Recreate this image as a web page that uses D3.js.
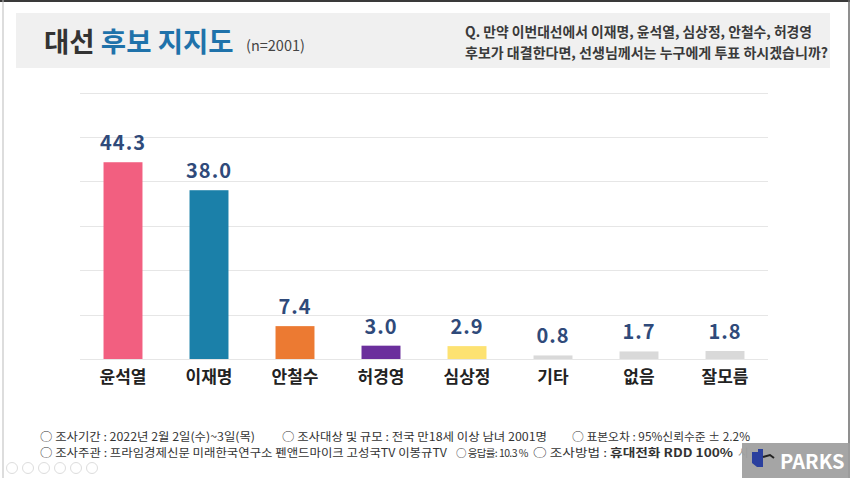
<!DOCTYPE html>
<html><head><meta charset="utf-8">
<script src="https://cdn.jsdelivr.net/npm/d3@7"></script>
<style>
html,body{margin:0;padding:0;background:#fff;}
svg{display:block;}
text{font-family:"Noto Sans CJK KR","Noto Sans",sans-serif;}
</style></head>
<body><svg id="c" width="850" height="478"></svg>
<script>
const categories = ["윤석열","이재명","안철수","허경영","심상정","기타","없음","잘모름"];
const values = [44.3,38.0,7.4,3.0,2.9,0.8,1.7,1.8];
const colors = ["#f25f80","#1b80a9","#ec7a32","#6b2f9c","#fde272","#d9d9d9","#d9d9d9","#d9d9d9"];
const yTicks = [0,10,20,30,40,50,60];
const footer1 = [["○ 조사기간 : 2022년 2월 2일(수)~3일(목)",40,215],["○ 조사대상 및 규모 : 전국 만18세 이상 남녀 2001명",282,265],["○ 표본오차 : 95%신뢰수준 ± 2.2%",572,178]];
const footer2 = [["○ 조사주관 : 프라임경제신문 미래한국연구소 펜앤드마이크 고성국TV 이봉규TV",40,407]];
const responseRate = "○ 응답률: 10.3 %";

const svg = d3.select("#c");
// frame
svg.append("rect").attr("x",0).attr("y",0).attr("width",850).attr("height",478).attr("fill","#fff");
svg.append("line").attr("x1",0).attr("x2",850).attr("y1",1).attr("y2",1).attr("stroke","#3a3a3a").attr("stroke-width",2);
svg.append("line").attr("x1",849).attr("x2",849).attr("y1",0).attr("y2",478).attr("stroke","#6a6a6a").attr("stroke-width",1.5);
svg.append("line").attr("x1",3).attr("x2",3).attr("y1",0).attr("y2",478).attr("stroke","#bbb").attr("stroke-width",1);

// header band
svg.append("rect").attr("x",16).attr("y",13).attr("width",814).attr("height",55).attr("fill","#f0f0f0");
const t = svg.append("text").attr("x",44).attr("y",52).attr("font-size",27.5).attr("font-weight",700);
t.append("tspan").attr("fill","#333").text("대선 ");
t.append("tspan").attr("fill","#1f72aa").text("후보 지지도");
svg.append("text").attr("x",246).attr("y",51).attr("font-size",14.5).attr("fill","#444").attr("font-family","Noto Sans").text("(n=2001)");
svg.append("text").attr("x",465).attr("y",37).attr("font-size",14).attr("font-weight",700).attr("fill","#3a3a3a")
  .attr("textLength",347).attr("lengthAdjust","spacingAndGlyphs").text("Q. 만약 이번대선에서 이재명, 윤석열, 심상정, 안철수, 허경영");
svg.append("text").attr("x",465).attr("y",58).attr("font-size",14).attr("font-weight",700).attr("fill","#3a3a3a")
  .attr("textLength",363).attr("lengthAdjust","spacingAndGlyphs").text("후보가 대결한다면, 선생님께서는 누구에게 투표 하시겠습니까?");

// chart
const x = d3.scaleBand().domain(categories).range([80,768]).paddingInner(0.547).paddingOuter(0.2735);
const y = d3.scaleLinear().domain([0,60]).range([359,92.5]);

const grid = svg.append("g");
grid.selectAll("line").data(yTicks).join("line")
  .attr("x1",80).attr("x2",768)
  .attr("y1",d=>Math.round(y(d))+0.5).attr("y2",d=>Math.round(y(d))+0.5)
  .attr("stroke","#e6e6e6").attr("stroke-width",1);

svg.append("g").selectAll("rect").data(values).join("rect")
  .attr("x",(d,i)=>x(categories[i]))
  .attr("width",x.bandwidth())
  .attr("y",d=>y(d))
  .attr("height",d=>y(0)-y(d))
  .attr("fill",(d,i)=>colors[i]);

svg.append("g").selectAll("text").data(values).join("text")
  .attr("x",(d,i)=>x(categories[i])+x.bandwidth()/2)
  .attr("y",d=>y(d)-12)
  .attr("text-anchor","middle")
  .attr("font-family","Noto Sans")
  .attr("font-size",20).attr("font-weight",600)
  .attr("letter-spacing",1)
  .attr("fill","#2f4a7a")
  .text(d=>d.toFixed(1));

const xAxis = d3.axisBottom(x).tickSize(0).tickPadding(0);
const xa = svg.append("g").attr("transform","translate(0,383)").call(xAxis);
xa.select(".domain").remove();
xa.selectAll("text").attr("font-family","Noto Sans CJK KR").attr("font-size",17).attr("font-weight",700).attr("fill","#222").attr("dy",0).attr("y",0);

// footer
const ft = svg.append("g").attr("font-size",11.5).attr("fill","#333");
footer1.forEach(([s,xx,w])=>ft.append("text").attr("x",xx).attr("y",441).attr("textLength",w).attr("lengthAdjust","spacingAndGlyphs").text(s));
footer2.forEach(([s,xx,w])=>ft.append("text").attr("x",xx).attr("y",457).attr("textLength",w).attr("lengthAdjust","spacingAndGlyphs").text(s));
ft.append("text").attr("x",456).attr("y",457).attr("font-size",10.5).attr("letter-spacing",-0.6).text(responseRate);
const m = ft.append("text").attr("x",533).attr("y",457).attr("textLength",200).attr("lengthAdjust","spacingAndGlyphs");
m.append("tspan").text("○ 조사방법 : ");
m.append("tspan").attr("font-weight",700).text("휴대전화 RDD 100%");
ft.append("text").attr("x",738).attr("y",457).attr("fill","#999").text("시");

// bottom-left faint controls
const ic = svg.append("g").attr("fill","none").attr("stroke","#ddd").attr("stroke-width",1);
[12,28,44,60,76,92].forEach(cx=>ic.append("circle").attr("cx",cx).attr("cy",468).attr("r",5.5));

// PARKS badge
svg.append("rect").attr("x",742).attr("y",443).attr("width",108).attr("height",35).attr("fill","#9d9d9d").attr("opacity",0.92);
svg.append("path").attr("d","M752,452 h6 v-3 h5 v18 h-6 l-5,-4 z").attr("fill","#2a3f9e");
svg.append("path").attr("d","M763,457 l7,-2 l4,3").attr("fill","none").attr("stroke","#222").attr("stroke-width",2);
svg.append("text").attr("x",780).attr("y",469).attr("font-family","Noto Sans").attr("font-weight",700).attr("font-size",20).attr("fill","#fff").text("PARKS");
</script></body></html>
